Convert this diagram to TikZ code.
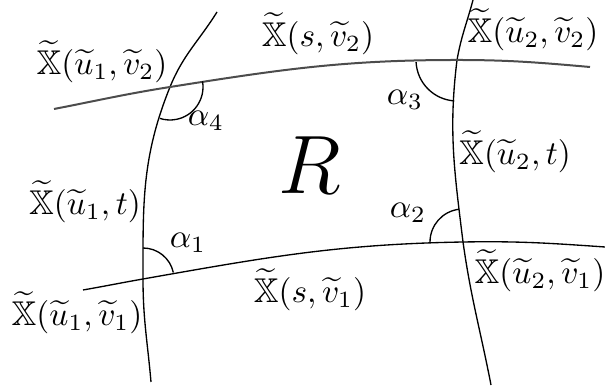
\documentclass[tikz,border=0pt]{standalone}
\usepackage{amsmath}
\usepackage{amssymb}
\usepackage{tikz}

\newcommand{\Xt}{\widetilde{\mathbb{X}}}
\newcommand{\ut}[1]{\widetilde{u}_{#1}}
\newcommand{\vt}[1]{\widetilde{v}_{#1}}

\begin{document}
\begin{tikzpicture}[x=0.3pt, y=-0.3pt, every node/.style={inner sep=0pt, font=\fontsize{10.3}{12.4}\selectfont},
    curve/.style={black, line width=0.4pt},
    topline/.style={black!70, line width=0.6pt},
    anglearc/.style={black, line width=0.4pt}]
    \useasboundingbox (0,0) rectangle (605,390);

    % corners of R
    \coordinate (c1) at (143,279);
    \coordinate (c2) at (463,242);
    \coordinate (c3) at (457,60);
    \coordinate (c4) at (170,87);
    % free ends of the curves
    \coordinate (e1) at (217,12);
    \coordinate (e2) at (151,382);
    \coordinate (e3) at (473,0);
    \coordinate (e4) at (491,385);
    \coordinate (e5) at (54,109);
    \coordinate (e6) at (590,67);
    \coordinate (e7) at (83,290);
    \coordinate (e8) at (605,247);

    % coordinate curves
    \draw[curve] (e1) to[out=-122, in=68] (c4) to[out=-112, in=90] (c1) to[out=-90, in=95] (e2);
    \draw[curve] (e3) to[out=-105, in=80] (c3) to[out=-97, in=97] (c2) to[out=-82, in=101] (e4);
    \draw[topline] (e5) to[out=11, in=-171] (c4) to[out=9, in=180] (c3) to[out=0, in=175] (e6);
    \draw[curve] (e7) to[out=10, in=-170] (c1) to[out=10, in=-179] (c2) to[out=1, in=176] (e8);

    % angles
    \draw[anglearc] (c1) ++(-90:31) arc[start angle=-90, end angle=-12, radius=31];
    \draw[anglearc] (c2) ++(180:33) arc[start angle=180, end angle=263, radius=33];
    \draw[anglearc] (c3) ++(177:41) arc[start angle=177, end angle=94, radius=41];
    \draw[anglearc] (c4) ++(-10:33) arc[start angle=-10, end angle=108, radius=33];
    \foreach \n/\x/\y in {1/188/243, 2/408/213, 3/405/100, 4/206/121}
        \node (a\n) at (\x,\y) {$\alpha_\n$};

    \node (r) at (310,165) {\fontsize{23}{28}\selectfont $R$};

    % labels
    \node (lu1v2) at (102,62)  {$\Xt(\ut1,\vt2)$};
    \node (lsv2)  at (318,34)  {$\Xt(s,\vt2)$};
    \node (lu2v2) at (533,30)  {$\Xt(\ut2,\vt2)$};
    \node (lu2t)  at (515,152) {$\Xt(\ut2,t)$};
    \node (lu1t)  at (85,202)  {$\Xt(\ut1,t)$};
    \node (lu1v1) at (77,313)  {$\Xt(\ut1,\vt1)$};
    \node (lsv1)  at (310,290) {$\Xt(s,\vt1)$};
    \node (lu2v1) at (540,271) {$\Xt(\ut2,\vt1)$};
\end{tikzpicture}
\end{document}
